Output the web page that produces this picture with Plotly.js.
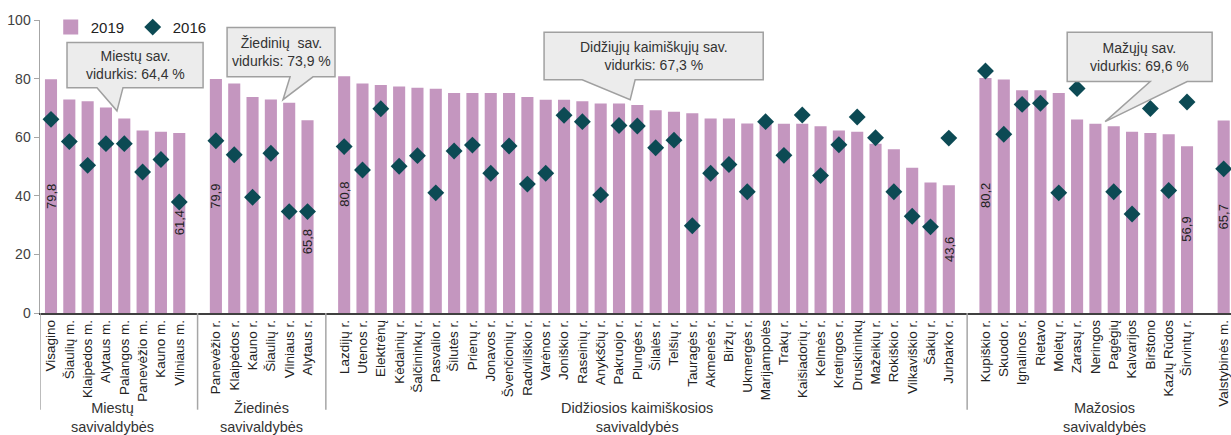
<!DOCTYPE html>
<html>
<head>
<meta charset="utf-8">
<script src="https://cdn.plot.ly/plotly-3.0.1.min.js"></script>
<style>html,body{margin:0;padding:0;background:#fff;}#chart{width:1231px;height:435px;}</style>
</head>
<body>
<div id="chart"></div>
<script>
const groupNames = ['Miestų<br>savivaldybės', 'Žiedinės<br>savivaldybės', 'Didžiosios kaimiškosios<br>savivaldybės', 'Mažosios<br>savivaldybės', ''];
const groupSizes = [8, 6, 34, 12, 1];
const categories = [
  'Visagino', 'Šiaulių m.', 'Klaipėdos m.', 'Alytaus m.', 'Palangos m.', 'Panevėžio m.', 'Kauno m.', 'Vilniaus m.',
  'Panevėžio r.', 'Klaipėdos r.', 'Kauno r.', 'Šiaulių r.', 'Vilniaus r.', 'Alytaus r.',
  'Lazdijų r.', 'Utenos r.', 'Elektrėnų', 'Kėdainių r.', 'Šalčininkų r.', 'Pasvalio r.', 'Šilutės r.', 'Prienų r.',
  'Jonavos r.', 'Švenčionių r.', 'Radviliškio r.', 'Varėnos r.', 'Joniškio r.', 'Raseinių r.', 'Anykščių r.',
  'Pakruojo r.', 'Plungės r.', 'Šilalės r.', 'Telšių r.', 'Tauragės r.', 'Akmenės r.', 'Biržų r.', 'Ukmergės r.',
  'Marijampolės', 'Trakų r.', 'Kaišiadorių r.', 'Kelmės r.', 'Kretingos r.', 'Druskininkų', 'Mažeikių r.',
  'Rokiškio r.', 'Vilkaviškio r.', 'Šakių r.', 'Jurbarko r.',
  'Kupiškio r.', 'Skuodo r.', 'Ignalinos r.', 'Rietavo', 'Molėtų r.', 'Zarasų r.', 'Neringos', 'Pagėgių',
  'Kalvarijos', 'Birštono', 'Kazlų Rūdos', 'Širvintų r.',
  'Valstybinės m.'
];
const val2019 = [
  79.8, 72.9, 72.3, 70.1, 66.4, 62.3, 61.9, 61.4,
  79.9, 78.3, 73.7, 72.9, 71.8, 65.8,
  80.8, 78.3, 77.8, 77.3, 76.9, 76.5, 75.1, 75.1, 75.1, 75.1, 73.7, 72.8, 72.8, 72.3, 71.5, 71.5, 71.0,
  69.2, 68.7, 68.2, 66.4, 66.4, 64.7, 64.6, 64.6, 64.6, 63.7, 62.3, 61.9, 57.8, 55.9, 49.6, 44.5, 43.6,
  80.2, 79.7, 76.0, 76.0, 75.1, 66.0, 64.6, 63.7, 61.9, 61.4, 61.0, 56.9,
  65.7
];
const val2016 = [
  66.1, 58.5, 50.4, 57.8, 57.8, 48.1, 52.4, 37.9,
  58.8, 54.0, 39.5, 54.5, 34.6, 34.6,
  56.8, 48.8, 69.7, 50.1, 53.7, 41.0, 55.3, 57.3, 47.7, 57.0, 44.0, 47.7, 67.5, 65.3, 40.3, 64.0, 63.8,
  56.4, 59.0, 29.8, 47.7, 50.7, 41.4, 65.3, 53.8, 67.6, 46.9, 57.4, 66.9, 59.8, 41.4, 33.0, 29.4, 59.7,
  82.6, 61.0, 71.2, 71.6, 41.0, 76.6, null, 41.4, 33.8, 69.8, 41.8, 72.0,
  49.2
];
const calloutTexts = ['Miestų sav.<br>vidurkis: 64,4 %', 'Žiedinių  sav.<br>vidurkis: 73,9 %',
  'Didžiųjų kaimiškųjų sav.<br>vidurkis: 67,3 %', 'Mažųjų sav.<br>vidurkis: 69,6 %'];

// positions: one empty slot between groups
const xs = [];
const gapSlots = [];
const labelIdx = [];
let slot = 0, k = 0;
groupSizes.forEach((n, g) => {
  for (let i = 0; i < n; i++) {
    xs.push(slot);
    if (i === 0 || i === n - 1) labelIdx.push(k);
    slot++; k++;
  }
  if (g < groupSizes.length - 1) { gapSlots.push(slot); slot++; }
});

const FONT = 'Liberation Sans, Arial, sans-serif';
const BAR = '#c496bf';
const traces = [
  {type: 'bar', x: xs, y: val2019, name: '2019', width: 0.66, showlegend: false,
   marker: {color: BAR}, hoverinfo: 'x+y'},
  {type: 'scatter', mode: 'markers', x: [null], y: [null], name: '2019',
   marker: {symbol: 'square', size: 15, color: BAR}},
  {type: 'scatter', mode: 'markers', x: xs, y: val2016, name: '2016',
   marker: {symbol: 'diamond', size: 13, color: '#0c4a54'}, cliponaxis: false}
];

const shapes = [];
const annotations = [];
// separators below axis (left edge + between the first four groups)
[-0.6, gapSlots[0], gapSlots[1], gapSlots[2]].forEach(x => {
  shapes.push({type: 'line', xref: 'x', yref: 'paper', x0: x, x1: x, y0: 0, y1: -0.33,
    line: {color: '#a6a6a6', width: 1.5}});
});
// group labels
const groupLabelX = [3.33, 11.5, 32.0, 57.5];
groupLabelX.forEach((x, i) => {
  annotations.push({xref: 'x', yref: 'paper', x: x, y: -0.355, yanchor: 'middle', showarrow: false,
    text: groupNames[i], font: {family: FONT, size: 14.5, color: '#333'}});
});
// value labels (centred in bar; one moved below its marker as in the original)
const labelShift = {13: 24.3};
labelIdx.forEach(i => {
  const y = (i in labelShift) ? labelShift[i] : val2019[i] / 2;
  annotations.push({xref: 'x', yref: 'y', x: xs[i], y: y, showarrow: false, textangle: -90,
    text: val2019[i].toFixed(1).replace('.', ','), font: {family: FONT, size: 13, color: '#222'}});
});
// callouts
const boxes = [
  [0.874, 8.30, 92.3, 76.9, 2.51, 3.93, 3.60, 69.0],
  [9.61, 15.50, 97.4, 80.6, 13.05, 14.30, 12.66, 72.8],
  [26.91, 38.87, 95.8, 79.6, 28.99, 31.88, 31.61, 72.8],
  [55.46, 63.37, 95.8, 79.0, 59.99, 62.01, 57.53, 65.3]
];
boxes.forEach((b, i) => {
  const [x0, x1, yt, yb, b1, b2, tx, ty] = b;
  shapes.push({type: 'path', xref: 'x', yref: 'y',
    path: `M${x0},${yt} L${x1},${yt} L${x1},${yb} L${b2},${yb} L${tx},${ty} L${b1},${yb} L${x0},${yb} Z`,
    fillcolor: '#ececec', line: {color: '#a0a0a0', width: 1.5}, layer: 'above'});
  annotations.push({xref: 'x', yref: 'y', x: (x0 + x1) / 2, y: (yt + yb) / 2, showarrow: false,
    text: calloutTexts[i], font: {family: FONT, size: 14, color: '#333'}});
});

const layout = {
  width: 1231, height: 435,
  margin: {l: 40, r: 0, t: 20, b: 122},
  paper_bgcolor: '#fff', plot_bgcolor: '#fff',
  font: {family: FONT, color: '#333'},
  showlegend: true,
  legend: {orientation: 'h', x: 0.009, xanchor: 'left', y: 0.975, yanchor: 'middle',
    font: {family: FONT, size: 15, color: '#222'}, bgcolor: 'rgba(0,0,0,0)',
    entrywidth: 37, entrywidthmode: 'pixels'},
  xaxis: {range: [-0.6, 64.4], tickmode: 'array', tickvals: xs, ticktext: categories, tickangle: -90,
    ticklabeloverflow: 'allow',
    tickfont: {family: FONT, size: 13.5, color: '#222'}, showline: true, linecolor: '#404040', linewidth: 1.5,
    ticks: '', showgrid: false, zeroline: false, fixedrange: true},
  yaxis: {range: [0, 100], dtick: 20, showline: true, linecolor: '#a6a6a6', linewidth: 1.5,
    ticks: 'outside', ticklen: 5, tickcolor: '#a6a6a6', showgrid: false, zeroline: false,
    tickfont: {family: FONT, size: 14, color: '#404040'}},
  bargap: 0.3,
  shapes: shapes,
  annotations: annotations
};
Plotly.newPlot('chart', traces, layout, {displayModeBar: false, staticPlot: true});
</script>
</body>
</html>
